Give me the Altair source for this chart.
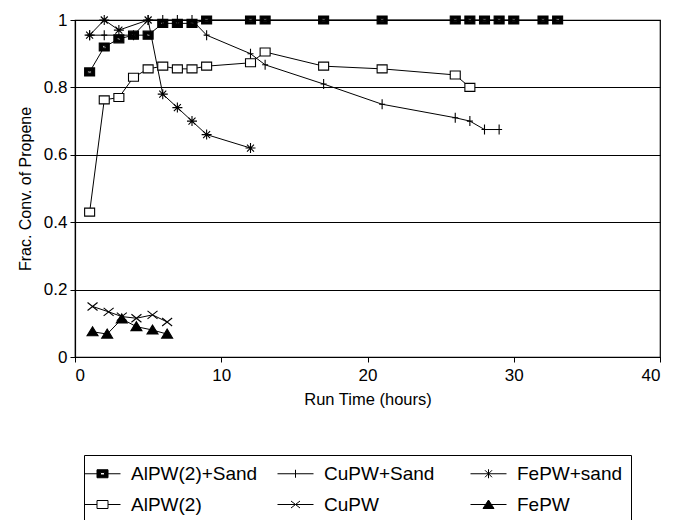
import altair as alt
import pandas as pd

series_names = ["AlPW(2)+Sand", "CuPW+Sand", "FePW+sand", "AlPW(2)", "CuPW", "FePW"]

alpw_sand_t = [1, 2, 3, 4, 5, 6, 7, 8, 9, 12, 13, 17, 21, 26, 27, 28, 29, 30, 32, 33]
alpw_sand_v = [0.846, 0.92, 0.944, 0.955, 0.955, 0.99, 0.99, 0.99, 1.0, 1.0, 1.0, 1.0, 1.0, 1.0, 1.0, 1.0, 1.0, 1.0, 1.0, 1.0]

cupw_sand_t = [1, 2, 4, 5, 6, 7, 8, 9, 12, 13, 17, 21, 26, 27, 28, 29]
cupw_sand_v = [0.955, 0.955, 0.955, 1.0, 1.0, 1.0, 1.0, 0.955, 0.90, 0.867, 0.81, 0.75, 0.71, 0.70, 0.675, 0.675]

fepw_sand_t = [1, 2, 3, 5, 6, 7, 8, 9, 12]
fepw_sand_v = [0.955, 1.0, 0.97, 1.0, 0.78, 0.74, 0.70, 0.66, 0.62]

alpw_t = [1, 2, 3, 4, 5, 6, 7, 8, 9, 12, 13, 17, 21, 26, 27]
alpw_v = [0.43, 0.763, 0.77, 0.83, 0.855, 0.863, 0.855, 0.855, 0.863, 0.873, 0.905, 0.863, 0.855, 0.837, 0.80]

cupw_t = [1.2, 2.3, 3.2, 4.2, 5.3, 6.3]
cupw_v = [0.15, 0.134, 0.12, 0.115, 0.125, 0.104]

fepw_t = [1.2, 2.2, 3.2, 4.2, 5.3, 6.3]
fepw_v = [0.075, 0.068, 0.113, 0.09, 0.08, 0.068]

x_ticks = [0, 10, 20, 30, 40]
y_ticks = [0, 0.2, 0.4, 0.6, 0.8, 1.0]

all_t = [alpw_sand_t, cupw_sand_t, fepw_sand_t, alpw_t, cupw_t, fepw_t]
all_v = [alpw_sand_v, cupw_sand_v, fepw_sand_v, alpw_v, cupw_v, fepw_v]

rows = []
for name, ts, vs in zip(series_names, all_t, all_v):
    for t, v in zip(ts, vs):
        rows.append({"series": name, "t": t, "v": v})
df = pd.DataFrame(rows)

# plot markers (custom paths in [-1, 1])
marker_paths = [
    "M-1,-0.8H1V0.8H-1Z M-0.35,-0.25V0.25H0.35V-0.25Z",       # AlPW(2)+Sand
    "M0,-1V1M-0.6,0H0.6",                                     # CuPW+Sand
    "M-1,0H1M0,-1V1M-0.7,-0.7L0.7,0.7M-0.7,0.7L0.7,-0.7",     # FePW+sand
    "M-1,-0.8H1V0.8H-1Z",                                     # AlPW(2)
    "M-1,-0.8L1,0.8M-1,0.8L1,-0.8",                           # CuPW
    "M0,-1L1.1,0.8H-1.1Z",                                    # FePW
]
marker_fills = ["black", "black", "black", "white", "black", "black"]

# legend symbols: line with marker in the middle (unit = 10 px)
legend_paths = [
    "M-1.8,0H-0.55M0.55,0H1.8M-0.55,-0.4H0.55V0.4H-0.55Z M-0.2,-0.12V0.12H0.2V-0.12Z",
    "M-1.8,0H1.8M0,-0.4V0.4",
    "M-1.8,0H1.8M0,-0.45V0.45M-0.35,-0.35L0.35,0.35M-0.35,0.35L0.35,-0.35",
    "M-1.8,0H-0.55M0.55,0H1.8M-0.55,-0.4H0.55V0.4H-0.55Z",
    "M-1.8,0H1.8M-0.45,-0.35L0.45,0.35M-0.45,0.35L0.45,-0.35",
    "M-1.8,0H1.8M-0.55,0.4L0,-0.45L0.55,0.4Z",
]
legend_fills = ["black", "black", "black", "white", "black", "black"]
legend_strokes = ["black"] * 6

FONT = "Liberation Sans"

x_enc = alt.X(
    "t:Q",
    scale=alt.Scale(domain=[0, 40], nice=False),
    axis=alt.Axis(
        values=x_ticks, title="Run Time (hours)", grid=False, tickSize=5,
        labelFontSize=17, titleFontSize=16.5, labelPadding=5, titlePadding=8,
    ),
)
y_enc = alt.Y(
    "v:Q",
    scale=alt.Scale(domain=[0, 1], nice=False),
    axis=alt.Axis(
        values=y_ticks, format=".1~f", title="Frac. Conv. of Propene",
        grid=True, gridColor="black", gridWidth=1.2, tickSize=5,
        labelFontSize=17, titleFontSize=16, labelPadding=3, titlePadding=10,
    ),
)

lines = alt.Chart(df).mark_line(color="black", strokeWidth=1).encode(
    x=x_enc, y=y_enc, detail="series:N"
)

points = alt.Chart(df).mark_point(
    filled=True, stroke="black", strokeWidth=1.1, size=100, opacity=1
).encode(
    x=x_enc,
    y=y_enc,
    shape=alt.Shape("series:N", scale=alt.Scale(domain=series_names, range=marker_paths), legend=None),
    fill=alt.Fill("series:N", scale=alt.Scale(domain=series_names, range=marker_fills), legend=None),
)

leg = alt.Legend(
    title=None, orient="none", legendX=9, legendY=435, columns=3,
    direction="horizontal",
    symbolSize=400, symbolStrokeWidth=1,
    labelFont=FONT, labelFontSize=19, labelColor="black", labelOffset=18,
    columnPadding=17, rowPadding=10, padding=8, strokeColor="black",
    gridAlign="all", labelLimit=300,
)

legend_layer = alt.Chart(df).mark_point(
    filled=True, strokeWidth=1, opacity=1, size=400
).encode(
    x=x_enc,
    y=y_enc,
    shape=alt.Shape("series:N", scale=alt.Scale(domain=series_names, range=legend_paths), legend=leg),
    fill=alt.Fill("series:N", scale=alt.Scale(domain=series_names, range=legend_fills), legend=leg),
    stroke=alt.Stroke("series:N", scale=alt.Scale(domain=series_names, range=legend_strokes), legend=leg),
).transform_filter("false")

chart = alt.layer(lines, points, legend_layer).resolve_scale(
    shape="independent", fill="independent", stroke="independent"
).properties(
    width=585, height=337,
    autosize=alt.AutoSizeParams(type="none"),
    padding={"left": 67, "top": 12, "right": 10, "bottom": 163},
    background="white",
).configure_axis(
    labelFont=FONT, titleFont=FONT, labelColor="black", titleColor="black",
    domainColor="black", tickColor="black", domainWidth=1.2,
    titleFontWeight="normal",
).configure_view(stroke="black", strokeWidth=1.2)

chart.save("out.html", embed_options={"renderer": "svg", "actions": False})
